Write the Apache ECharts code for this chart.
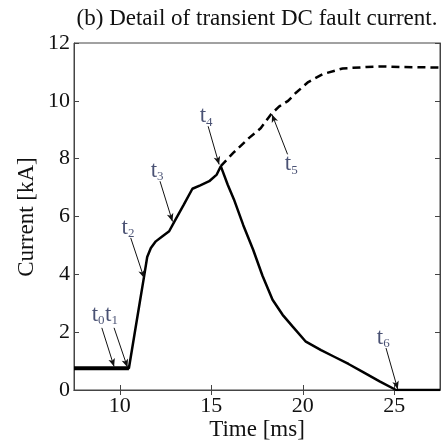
<!DOCTYPE html>
<html>
<head>
<meta charset="utf-8">
<script src="https://cdn.jsdelivr.net/npm/echarts@6/dist/echarts.min.js"></script>
<style>
  html, body { margin: 0; padding: 0; background: #fff; }
  #chart { width: 441px; height: 443px; }
</style>
</head>
<body>
<div id="chart"></div>
<script>
// current with the breaker operating (solid)
var breakerTime = [7.5, 10.5, 10.8, 11.1, 11.33, 11.5, 11.7, 11.97, 12.3, 12.7, 13.0, 13.5, 13.97, 14.4, 14.89, 15.3, 15.52,
  15.9, 16.24, 16.75, 17.29, 17.8, 18.35, 18.9, 19.44, 20.17, 21.0, 21.72, 22.5, 23.3, 24.2, 25.1, 27.5];
var breakerCurrent = [0.75, 0.75, 1.9, 3.05, 3.93, 4.6, 4.91, 5.14, 5.3, 5.49, 5.84, 6.41, 6.96, 7.08, 7.22, 7.45, 7.74,
  7.1, 6.59, 5.7, 4.85, 3.95, 3.12, 2.6, 2.2, 1.67, 1.38, 1.15, 0.9, 0.62, 0.3, 0.0, 0.0];
// pre-fault segment (drawn heavier)
var preTime = [7.5, 10.5];
var preCurrent = [0.75, 0.75];
// prospective current without interruption (dashed)
var faultTime = [15.52, 16.2, 17.07, 17.7, 18.26, 18.7, 19.2, 19.63, 20.3, 21.08, 22.18, 23.5, 24.37, 25.5, 27.5];
var faultCurrent = [7.74, 8.2, 8.72, 9.05, 9.53, 9.8, 10.0, 10.28, 10.65, 10.92, 11.12, 11.17, 11.19, 11.17, 11.15];

var xTicks = [10, 15, 20, 25];

// annotation labels: name, label position, arrow tail, arrow tip (data units)
var tagNames = ['0', '1', '2', '3', '4', '5', '6'];
var tagPos = [[8.82, 2.6], [9.55, 2.6], [10.45, 5.6], [12.04, 7.59], [14.72, 9.46], [19.37, 7.8], [24.4, 1.8]];
var arrowTail = [[9.02, 2.15], [9.69, 2.15], [10.6, 5.26], [12.2, 7.22], [14.83, 9.12], [19.17, 8.15], [24.55, 1.45]];
var arrowTip = [[9.69, 0.81], [10.42, 0.79], [11.33, 3.87], [12.88, 5.83], [15.43, 7.8], [18.32, 9.53], [25.19, 0.03]];

function pairs(xs, ys) {
  var out = [];
  for (var i = 0; i < xs.length; i++) out.push([xs[i], ys[i]]);
  return out;
}

var serif = 'Liberation Serif, Times New Roman, serif';
var tagColor = '#1c2550';

var arrows = [];
for (var i = 0; i < arrowTail.length; i++) {
  arrows.push([{ coord: arrowTail[i] }, { coord: arrowTip[i] }]);
}
var tagData = [];
for (var j = 0; j < tagPos.length; j++) {
  tagData.push({ value: tagPos[j], sub: tagNames[j] });
}

var chart = echarts.init(document.getElementById('chart'));
var axisCol = '#444';
chart.setOption({
  animation: false,
  title: {
    text: '(b) Detail of transient DC fault current.',
    left: 252, top: 2, textAlign: 'center',
    textStyle: { fontFamily: serif, fontSize: 23, fontWeight: 'normal', color: '#111' }
  },
  // axis titles placed as plain text
  graphic: [{
    type: 'text', x: 257, y: 430,
    style: { text: 'Time [ms]', fontFamily: serif, fontSize: 23, fill: '#111', align: 'center', verticalAlign: 'middle' }
  }, {
    type: 'text', x: 27, y: 217, rotation: Math.PI / 2,
    style: { text: 'Current [kA]', fontFamily: serif, fontSize: 23, fill: '#111', align: 'center', verticalAlign: 'middle' }
  }],
  grid: {
    left: 74, right: 1, top: 43, bottom: 53, outerBoundsMode: 'none', containLabel: false,
    show: true, borderColor: axisCol, borderWidth: 1
  },
  xAxis: [{
    type: 'value', min: 7.5, max: 27.5,
    axisLine: { show: true, lineStyle: { color: axisCol } },
    axisTick: { inside: true, length: 5, customValues: xTicks, lineStyle: { color: axisCol } },
    axisLabel: { customValues: xTicks, margin: 5, fontFamily: serif, fontSize: 22, color: '#111' },
    splitLine: { show: false }
  }, {
    type: 'value', min: 7.5, max: 27.5, position: 'top',
    axisLine: { show: true, lineStyle: { color: axisCol } },
    axisTick: { inside: true, length: 5, customValues: xTicks, lineStyle: { color: axisCol } },
    axisLabel: { show: false },
    splitLine: { show: false }
  }],
  yAxis: [{
    type: 'value', min: 0, max: 12, interval: 2,
    axisLine: { show: true, lineStyle: { color: axisCol } },
    axisTick: { inside: true, length: 5, lineStyle: { color: axisCol } },
    axisLabel: { margin: 4, fontFamily: serif, fontSize: 22, color: '#111' },
    splitLine: { show: false }
  }, {
    type: 'value', min: 0, max: 12, interval: 2, position: 'right',
    axisLine: { show: true, lineStyle: { color: axisCol } },
    axisTick: { inside: true, length: 5, lineStyle: { color: axisCol } },
    axisLabel: { show: false },
    splitLine: { show: false }
  }],
  series: [{
    type: 'line', data: pairs(faultTime, faultCurrent), showSymbol: false, symbol: 'none',
    lineStyle: { color: '#000', width: 2.5, type: [8, 5] }, z: 3
  }, {
    type: 'line', data: pairs(breakerTime, breakerCurrent), showSymbol: false, symbol: 'none',
    lineStyle: { color: '#000', width: 2.5 }, z: 4,
    markLine: {
      silent: true, symbol: ['none', 'arrow'], symbolSize: [5, 8],
      lineStyle: { color: '#111', width: 1, type: 'solid' },
      label: { show: false },
      data: arrows
    }
  }, {
    type: 'line', data: pairs(preTime, preCurrent), showSymbol: false, symbol: 'none',
    lineStyle: { color: '#000', width: 4 }, z: 4
  }, {
    type: 'scatter', data: tagData, symbolSize: 0, z: 6,
    label: {
      show: true, position: 'inside',
      formatter: function (p) { return '{t|t}{s|' + p.data.sub + '}'; },
      rich: {
        t: { fontFamily: serif, fontSize: 23, color: tagColor, lineHeight: 22 },
        s: { fontFamily: serif, fontSize: 13, color: tagColor, lineHeight: 22, padding: [12, 0, 0, 0] }
      }
    }
  }]
});
</script>
</body>
</html>
